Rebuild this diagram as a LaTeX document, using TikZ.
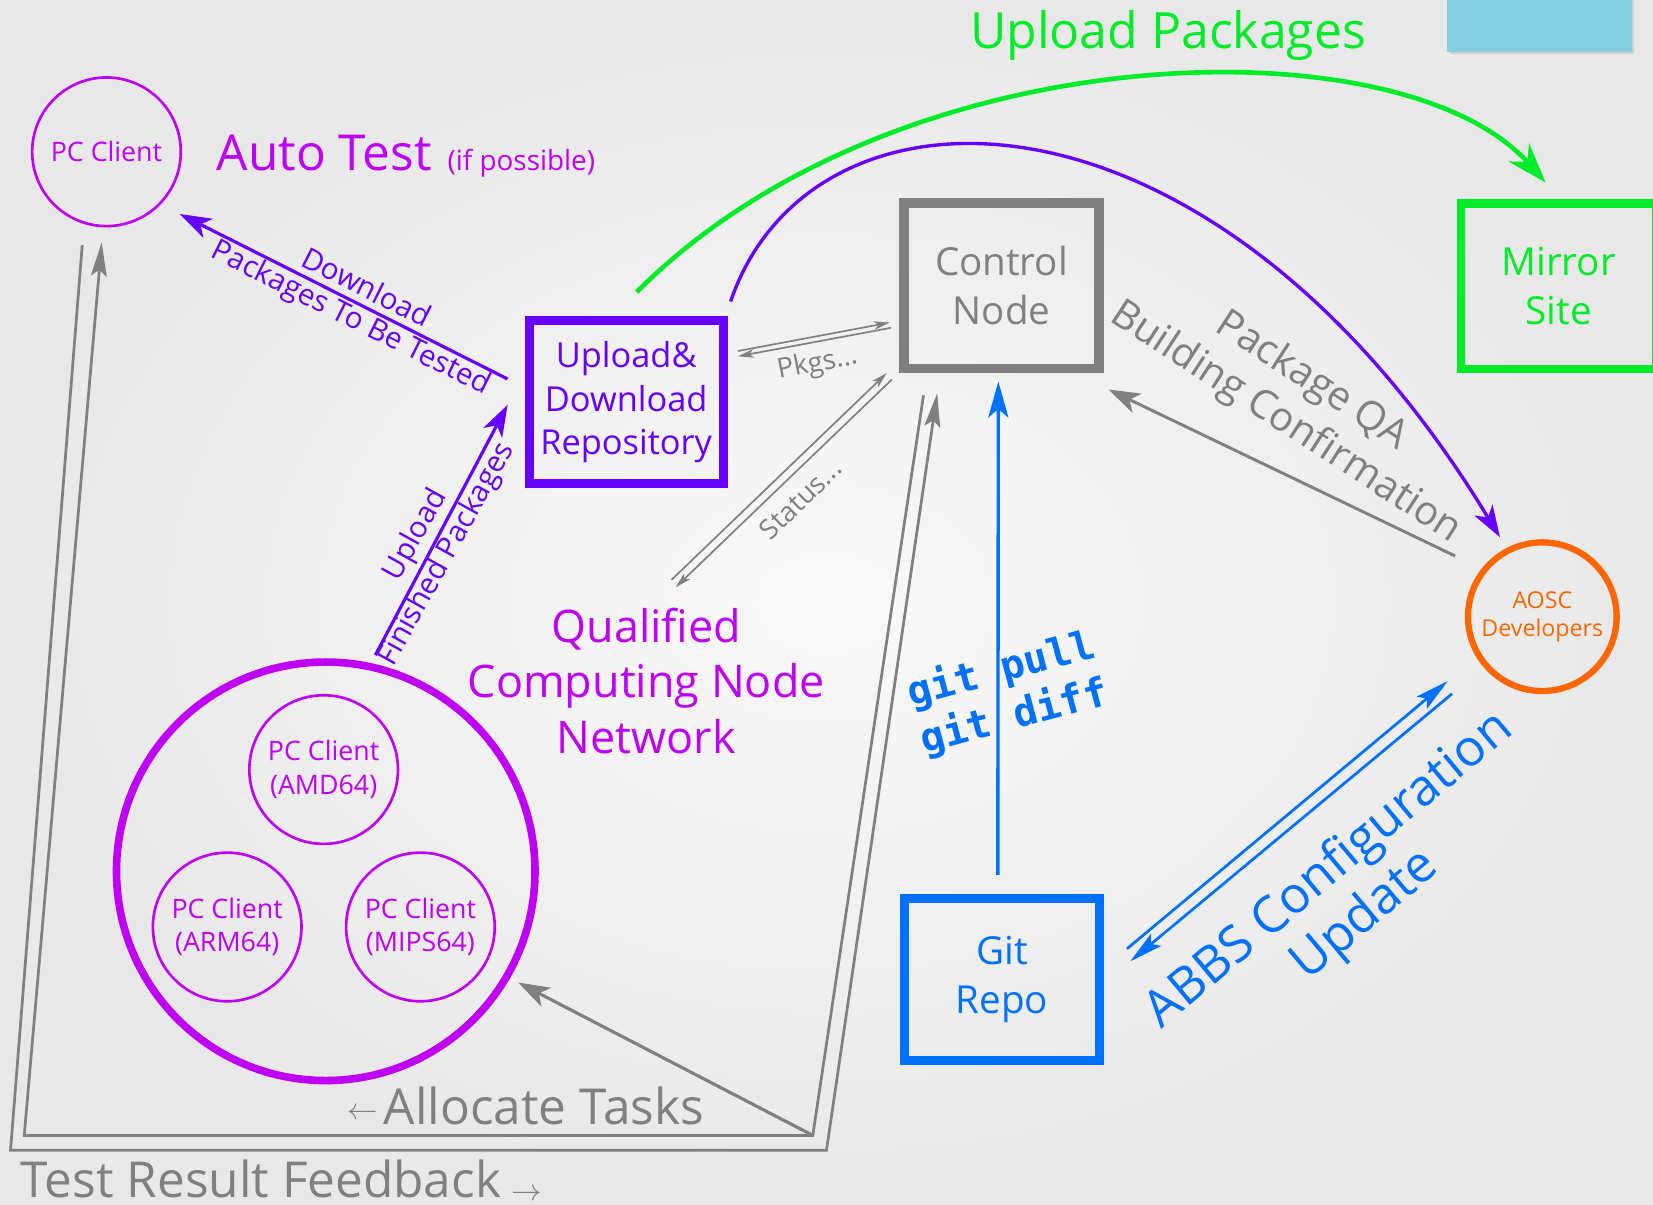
\documentclass[tikz,border=0pt]{standalone}
\usepackage{fontspec}
\setmainfont{Open Sans}
\newfontfamily\monofont{DejaVu Sans Mono}
\usetikzlibrary{arrows.meta,calc}
\definecolor{cgreen}{RGB}{0,235,40}
\definecolor{cmag}{RGB}{190,0,245}
\definecolor{cviol}{RGB}{102,0,255}
\definecolor{cgray}{RGB}{128,128,128}
\definecolor{cblue}{RGB}{0,112,255}
\definecolor{corange}{RGB}{255,102,0}
\definecolor{ccyan}{RGB}{133,208,222}
\definecolor{bginner}{RGB}{249,249,249}
\definecolor{bgouter}{RGB}{232,232,232}
\newcommand{\myfs}[2]{\fontsize{#1}{#2}\selectfont}
\begin{document}
\begin{tikzpicture}[x=0.5pt,y=-0.5pt,
  boxst/.style={draw, rectangle, minimum width=92.5pt, minimum height=78.5pt, line width=4.5pt, inner sep=0pt, align=center},
  pcst/.style={draw=cmag, text=cmag, circle, line width=1.25pt, minimum size=70.5pt, inner sep=0pt, align=center, font=\myfs{12.7}{16}},
  tipB/.style={-{Stealth[length=15pt,width=10pt,inset=4pt]}},
  tipG/.style={-{Stealth[length=19pt,width=13pt,inset=6pt]}},
  tipN/.style={-{Stealth[length=16pt,width=7.5pt,inset=3pt]}},
  tipS/.style={-{Stealth[length=7.5pt,width=4pt,inset=2pt]}},
  lbl/.style={inner sep=0pt}
]
\useasboundingbox (0,0) rectangle (1568,1143);
\shade[inner color=bginner, outer color=bgouter] (0,0) rectangle (1568,1143);
\clip (0,0) rectangle (1568,1143);
% cyan tab
\fill[black, opacity=0.10] (1375,-5) rectangle (1550,51.5);
\fill[ccyan] (1373,-5) rectangle (1548,49);

% nodes
\node[pcst] (pc1) at (101,144) {PC Client};
\node[boxst, draw=cviol, text=cviol, minimum width=92pt, minimum height=77.5pt, line width=4.25pt, font=\myfs{16.3}{20.5}] (repo) at (594,381.5) {Upload\&\\Download\\Repository};
\node[boxst, draw=cgray, text=cgray, font=\myfs{18.3}{23}] (ctrl) at (950,271) {Control\\Node};
\node[boxst, draw=cgreen, text=cgreen, line width=4pt, font=\myfs{18.3}{23}] (mirror) at (1478.5,271.5) {Mirror\\Site};
\node[boxst, draw=cblue, text=cblue, minimum height=76.75pt, font=\myfs{18.3}{23}] (git) at (950.5,929) {Git\\Repo};
\node[circle, draw=corange, text=corange, line width=3pt, minimum size=70.5pt, inner sep=0pt, align=center, font=\myfs{11}{13.5}] (aosc) at (1463,585) {AOSC\\Developers};
\node[circle, draw=cmag, line width=3.6pt, minimum size=198.5pt, inner sep=0pt] (qnet) at (309,826.5) {};
\node[pcst] (amd) at (307,730) {PC Client\\(AMD64)};
\node[pcst] (arm) at (215.5,879.3) {PC Client\\(ARM64)};
\node[pcst] (mips) at (398.8,879.3) {PC Client\\(MIPS64)};

% labels
\node[lbl, text=cgreen, font=\myfs{23.7}{28}, anchor=base] (lblup) at (1108,46) {Upload Packages};
\node[lbl, text=cmag, font=\myfs{23.5}{28}, anchor=base west] (lblauto) at (205.4,161.3) {Auto Test\hspace{7.5pt}{\myfs{13.2}{15}(if possible)}};
\node[lbl, text=cmag, font=\myfs{21.3}{26.5}, align=center] (lblq) at (613,646) {Qualified\\Computing Node\\Network};
\node[lbl, text=cviol, font=\myfs{14}{16}, rotate=-26.7] (lbldl1) at (348,272) {Download};
\node[lbl, text=cviol, font=\myfs{14}{16}, rotate=-26.7] (lbldl2) at (332.4,302.7) {Packages To Be Tested};
\node[lbl, text=cviol, font=\myfs{14}{16}, rotate=61] (lblul1) at (394.6,507.5) {Upload};
\node[lbl, text=cviol, font=\myfs{14}{16}, rotate=61] (lblul2) at (424,526) {Finished Packages};
\node[lbl, text=cgray, font=\myfs{13}{15}, rotate=11] (lblpk) at (775.5,345.5) {Pkgs...};
\node[lbl, text=cgray, font=\myfs{13}{15}, rotate=44] (lblst) at (759,473.4) {Status...};
\node[lbl, text=cgray, font=\myfs{19}{22}, rotate=-33] (lblqa1) at (1244,362) {Package QA};
\node[lbl, text=cgray, font=\myfs{19}{22}, rotate=-33] (lblqa2) at (1219.5,401) {Building Confirmation};
\node[lbl, text=cblue, font=\monofont\bfseries\myfs{19}{23}, rotate=15, align=left] (lblgit) at (956,658) {git pull\\git diff};
\node[lbl, text=cblue, font=\myfs{24}{28}, rotate=40] (lblab1) at (1261.5,826) {ABBS Configuration};
\node[lbl, text=cblue, font=\myfs{24}{28}, rotate=40] (lblab2) at (1295.5,869) {Update};
\node[lbl, text=cgray, font=\myfs{23.5}{28}, anchor=base west] (lblalloc) at (329,1067) {\raisebox{2.75pt}{\myfs{14}{14}$\leftarrow$}\hspace{3pt}Allocate Tasks};
\node[lbl, text=cgray, font=\myfs{23.5}{28}, anchor=base west] (lblfb) at (19.5,1136) {Test Result Feedback\hspace{5pt}\raisebox{-1.5pt}{\myfs{14}{14}$\rightarrow$}};

% free-end coordinates
\coordinate (stq1) at (637,550);
\coordinate (stq2) at (641,557);
\coordinate (ai1) at (771,1077);
\coordinate (ai2) at (23,1077);
\coordinate (fb1) at (10,1091);
\coordinate (fb2) at (784,1091);

% connectors
\draw[cviol, line width=1.5pt, tipB] ([shift={(-16.25,-22)}]repo.west) -- ([shift={(14.5,12.9)}]pc1.-40);
\draw[cviol, line width=1.5pt, tipB] ([shift={(1.6,-8.1)}]qnet.77.6) -- ([shift={(-16.25,2.5)}]repo.west);
\draw[cgreen, line width=2.2pt, tipG] ([shift={(10,-22.75)}]repo.north) .. controls (850,30) and (1330,20) .. ([shift={(-12.5,-16)}]mirror.north);
\draw[cviol, line width=1.6pt, tipB] ([shift={(2.75,-13.75)}]repo.north east) .. controls (770,60) and (1150,60) .. ([shift={(-5.7,-10.5)}]aosc.118.7);
\draw[cgray, line width=0.8pt, tipS] ([shift={(9.75,-48.5)}]repo.east) -- ([shift={(-9,35)}]ctrl.west);
\draw[cgray, line width=0.8pt, tipS] ([shift={(-8,40)}]ctrl.west) -- ([shift={(9.75,-43.5)}]repo.east);
\draw[cgray, line width=0.8pt, tipS] (stq1) -- ([shift={(-12,0)}]ctrl.south west);
\draw[cgray, line width=0.8pt, tipS] ([shift={(-7,6)}]ctrl.south west) -- (stq2);
\draw[cgray, line width=1.4pt, tipB] ([shift={(-22.4,-15.4)}]aosc.145.5) -- ([shift={(4.5,15.5)}]ctrl.south east);
\draw[cblue, line width=1.6pt, -{Stealth[length=17pt,width=9.5pt,inset=4pt]}] ([shift={(-4,-17.75)}]git.north) -- ([shift={(-3,8)}]ctrl.south);
\draw[cblue, line width=1.3pt, tipN] ([shift={(21.5,-29)}]git.east) -- ([shift={(-28.7,19.95)}]aosc.214.9);
\draw[cblue, line width=1.3pt, tipN] ([shift={(-24.7,32)}]aosc.214.9) -- ([shift={(24.5,-17)}]git.east);
\draw[cgray, line width=1.3pt, tipN] ([shift={(23,21)}]ctrl.south west) -- (ai1) -- (ai2) -- ([shift={(-4.5,14.25)}]pc1.south);
\draw[cgray, line width=1.5pt, tipB] (ai1) -- ([shift={(7.5,4.5)}]qnet.-30.3);
\draw[cgray, line width=1.3pt, tipN] ([shift={(-23,16.75)}]pc1.south) -- (fb1) -- (fb2) -- ([shift={(36,19)}]ctrl.south west);
\end{tikzpicture}
\end{document}
